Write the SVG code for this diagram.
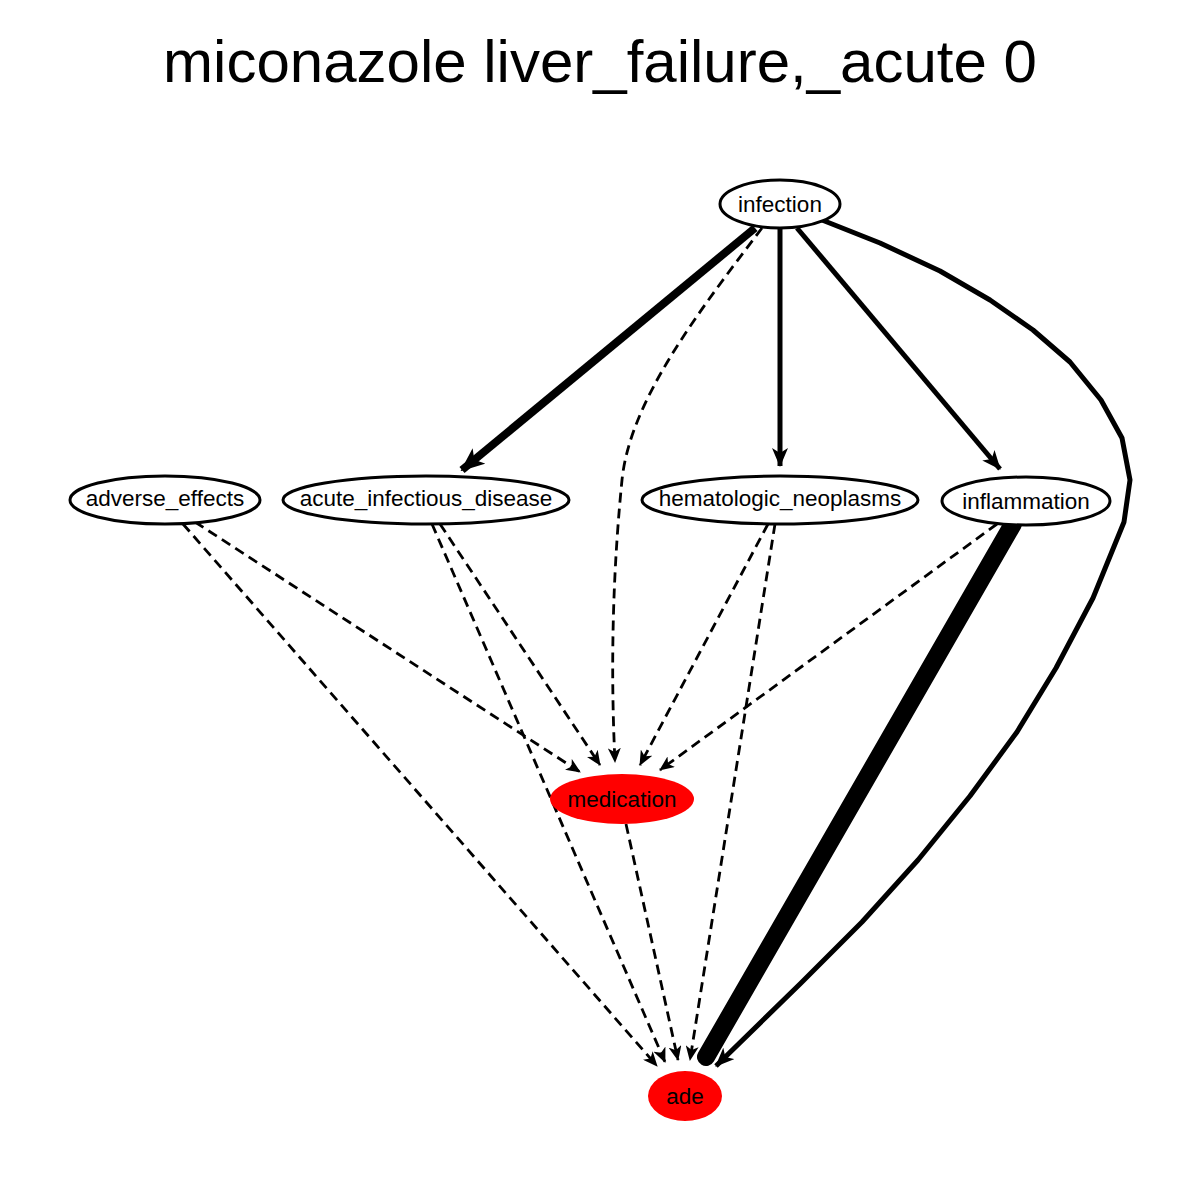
<svg xmlns="http://www.w3.org/2000/svg" width="1200" height="1200" viewBox="0 0 1200 1200">
<style>
.t{font-family:"Liberation Sans",Arial,sans-serif;fill:#000}
.lbl{font-size:22.5px;text-anchor:middle}
.node{fill:#fff;stroke:#000;stroke-width:3}
.red{fill:#ff0000;stroke:none}
.e{fill:none;stroke:#000}
.d{stroke-width:2.8;stroke-dasharray:10,6}
</style>
<defs>
<marker id="as" markerUnits="userSpaceOnUse" viewBox="0 0 15 13" refX="14" refY="6.5" markerWidth="15" markerHeight="13" orient="auto">
<path d="M0,0 L15,6.5 L0,13 L4,6.5 z" fill="#000"/>
</marker>
<marker id="am" markerUnits="userSpaceOnUse" viewBox="0 0 19 16" refX="18" refY="8" markerWidth="19" markerHeight="16" orient="auto">
<path d="M0,0 L19,8 L0,16 L5,8 z" fill="#000"/>
</marker>
<marker id="al" markerUnits="userSpaceOnUse" viewBox="0 0 24 20" refX="22" refY="10" markerWidth="24" markerHeight="20" orient="auto">
<path d="M0,0 L24,10 L0,20 L6,10 z" fill="#000"/>
</marker>
</defs>
<rect width="1200" height="1200" fill="#fff"/>
<text class="t" x="600" y="82" font-size="60" text-anchor="middle">miconazole liver_failure,_acute 0</text>
<g id="edges">
<path class="e" stroke-width="8" d="M755,228 L462,470" marker-end="url(#al)"/>
<path class="e d" d="M762,228 C700,310 630,400 622,480 C610,600 612,700 615,762" marker-end="url(#as)"/>
<path class="e" stroke-width="5" d="M780,228 L780,466" marker-end="url(#am)"/>
<path class="e" stroke-width="5" d="M797,228 L1000,469" marker-end="url(#am)"/>
<path class="e" stroke-width="5" stroke-linejoin="round" d="M822,220 L880,243 L940,271 L990,300 L1033,330 L1070,362 L1101,400 L1122,438 L1130,480 L1124,522 L1093,598 L1056,668 L1017,732 L970,796 L918,860 L862,922 L800,984 L716,1066" marker-end="url(#am)"/>
<path class="e" stroke-width="18" stroke-linecap="round" d="M1013,524 L706,1057"/>
<path class="e d" d="M997,524 L660,770" marker-end="url(#as)"/>
<path class="e d" d="M768,524 L640,765" marker-end="url(#as)"/>
<path class="e d" d="M775,524 L690,1060" marker-end="url(#as)"/>
<path class="e d" d="M440,524 L600,765" marker-end="url(#as)"/>
<path class="e d" d="M432,524 L665,1062" marker-end="url(#as)"/>
<path class="e d" d="M195,522 L580,772" marker-end="url(#as)"/>
<path class="e d" d="M183,524 L657,1066" marker-end="url(#as)"/>
<path class="e d" d="M626,824 L678,1060" marker-end="url(#as)"/>
</g>
<g id="infection"><ellipse class="node" cx="780" cy="204" rx="60" ry="24"/><text class="t lbl" x="780" y="212">infection</text></g>
<g id="adverse_effects"><ellipse class="node" cx="165" cy="500" rx="95" ry="24"/><text class="t lbl" x="165" y="506">adverse_effects</text></g>
<g id="acute_infectious_disease"><ellipse class="node" cx="426" cy="500" rx="143" ry="24"/><text class="t lbl" x="426" y="506">acute_infectious_disease</text></g>
<g id="hematologic_neoplasms"><ellipse class="node" cx="780" cy="500" rx="138" ry="24"/><text class="t lbl" x="780" y="506">hematologic_neoplasms</text></g>
<g id="inflammation"><ellipse class="node" cx="1026" cy="501" rx="84" ry="24"/><text class="t lbl" x="1026" y="509">inflammation</text></g>
<g id="medication"><ellipse class="red" cx="622" cy="799" rx="72" ry="25"/><text class="t lbl" x="622" y="807">medication</text></g>
<g id="ade"><ellipse class="red" cx="685" cy="1096" rx="37" ry="25"/><text class="t lbl" x="685" y="1104">ade</text></g>
</svg>
